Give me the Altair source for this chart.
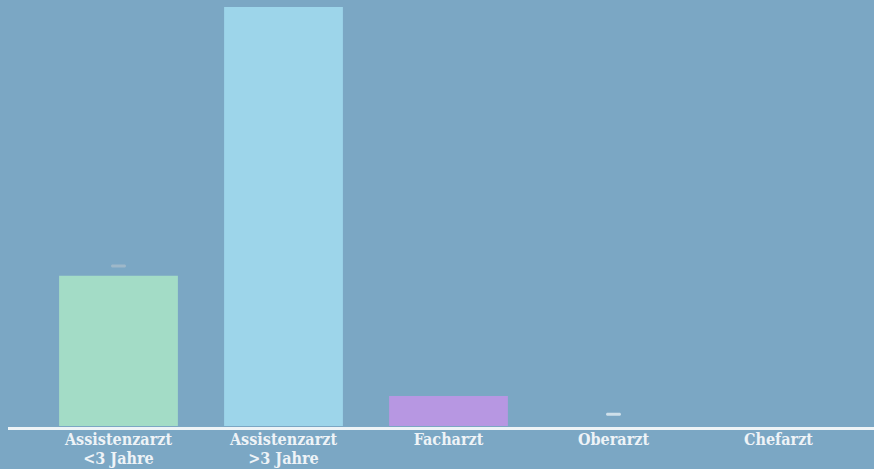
import altair as alt
import pandas as pd

# Categories (line breaks marked with "|") and their values
categories = ["Assistenzarzt|<3 Jahre", "Assistenzarzt|>3 Jahre", "Facharzt", "Oberarzt", "Chefarzt"]
values = [21.5, 60.0, 4.3, 0.0, 0.0]
bar_colors = ["#a3dcc6", "#9dd5ea", "#b797e2", "#7ba7c4", "#7ba7c4"]

# Small value markers sitting just above some bars
marker_categories = ["Oberarzt", "Assistenzarzt|<3 Jahre"]
marker_values = [1.7, 22.9]
marker_colors = ["#f4f8fb", "#aebfcc"]

BG = "#7ba7c4"
Y_MAX = 61.0

bars = pd.DataFrame({"cat": categories, "value": values, "color": bar_colors})
marks = pd.DataFrame({"cat": marker_categories, "value": marker_values, "color": marker_colors})

x_enc = alt.X(
    "cat:N",
    sort=categories,
    title=None,
    scale=alt.Scale(range=[36, 861], paddingInner=0.28, paddingOuter=0.14),
    axis=alt.Axis(
        domain=False,
        ticks=False,
        grid=False,
        labelAngle=0,
        labelExpr="split(datum.label, '|')",
        labelFont="DejaVu Serif Condensed",
        labelFontWeight="bold",
        labelFontSize=16,
        labelColor="#eef3f7",
        labelPadding=5,
        labelLineHeight=19,
    ),
)
y_scale = alt.Scale(domain=[0, Y_MAX])

bar_layer = alt.Chart(bars).mark_bar().encode(
    x=x_enc,
    y=alt.Y("value:Q", scale=y_scale, axis=None),
    color=alt.Color("color:N", scale=None),
)

marker_layer = alt.Chart(marks).mark_tick(size=15, thickness=3, cornerRadius=2).encode(
    x=alt.X("cat:N", sort=categories),
    y=alt.Y("value:Q", scale=y_scale),
    color=alt.Color("color:N", scale=None),
)

baseline = alt.Chart(pd.DataFrame({"v": [0]})).mark_rule(
    color="#eef4f7", strokeWidth=3
).encode(x=alt.value(8), x2=alt.value(874), y=alt.value(428.5))

chart = (
    alt.layer(bar_layer, marker_layer, baseline)
    .properties(
        width=874,
        height=426,
        background=BG,
        padding={"left": 0, "top": 0, "right": 0, "bottom": 43},
        autosize=alt.AutoSizeParams(type="none"),
    )
    .configure_view(stroke=None, fill=BG)
)

chart.save("out.html", embed_options={"renderer": "svg", "actions": False})
